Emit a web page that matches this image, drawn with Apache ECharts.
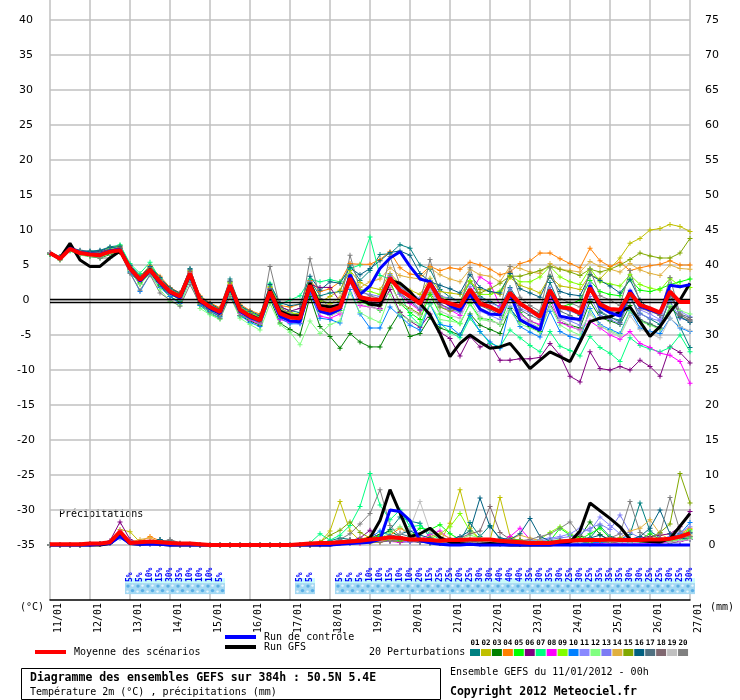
<!DOCTYPE html>
<html><head><meta charset="utf-8">
<script src="https://cdn.jsdelivr.net/npm/echarts/dist/echarts.min.js"></script>
<style>html,body{margin:0;padding:0;background:#fff}#c{width:740px;height:700px}</style>
</head><body><div id="c"></div>
<script>
// x: 6-hourly steps 0..64 (11/01 00h -> 27/01 00h)
const dateLabels = ['11/01','12/01','13/01','14/01','15/01','16/01','17/01','18/01','19/01','20/01','21/01','22/01','23/01','24/01','25/01','26/01','27/01'];
const memberIds = ['01','02','03','04','05','06','07','08','09','10','11','12','13','14','15','16','17','18','19','20'];
const memberColors = ['#008080','#c0c000','#008000','#ff8000','#00ff00','#800080','#00ff80','#ff00ff','#80ff00','#0080ff','#8888ff','#80ff80','#7c7cf4','#e0b040','#80a800','#006080','#507080','#806870','#c0c0c0','#808080'];

// Temperature 2m (°C)
const meanT = [6.7,5.9,7.3,6.7,6.5,6.4,6.9,7.1,4.5,2.9,4.3,2.6,1.2,0.5,3.8,0.0,-1.0,-1.7,2.1,-1.4,
 -2.3,-2.9,1.2,-1.9,-2.5,-2.6,2.1,-1.2,-1.5,-1.0,3.1,0.4,0.1,0.0,3.1,1.4,0.5,-0.5,2.4,0.0,
 -0.5,-0.9,1.5,-0.5,-1.0,-1.7,1.0,-0.5,-1.4,-2.4,1.4,-1.0,-1.2,-1.9,1.7,-0.6,-1.3,-1.4,1.0,-0.7,-1.2,-1.8,1.2,-0.3,-0.3];
const ctrlT = [6.7,5.9,7.4,6.8,6.6,6.5,7.0,7.2,4.4,2.7,4.2,2.4,1.0,0.3,3.7,-0.2,-1.2,-1.9,2.0,-1.6,
 -2.5,-3.0,1.0,-2.3,-3.0,-3.1,1.9,-1.6,-2.0,-1.3,3.6,0.8,2.0,4.5,6.0,6.9,4.8,3.0,2.6,0.2,
 -0.8,-1.5,0.8,-1.3,-2.0,-2.1,1.0,-2.8,-3.6,-4.3,1.4,-2.3,-2.6,-2.8,2.1,-1.0,-1.8,-2.3,1.4,-0.9,-1.4,-1.9,2.1,1.9,2.2];
const gfsT = [6.7,6.0,8.1,5.7,4.8,4.8,6.0,7.0,4.6,2.8,4.4,2.5,1.1,0.4,3.6,-0.1,-1.2,-1.9,1.9,-1.6,
 -2.2,-2.8,1.4,-1.6,-2.2,-2.3,2.4,-0.8,-1.0,-0.7,3.0,0.2,-0.6,-0.8,2.8,2.4,1.2,-0.5,-2.1,-4.8,
 -8.1,-6.2,-5.0,-6.0,-6.9,-6.7,-6.2,-7.9,-9.8,-8.6,-7.4,-8.1,-8.8,-6.0,-3.1,-2.6,-2.4,-1.7,-1.0,-3.1,-5.2,-3.8,-1.7,0.0,2.4];
const t01 = [6.6,6.2,7.2,7.0,7.0,7.1,7.6,7.8,5.0,3.5,4.5,3.1,1.6,0.9,4.5,0.4,-0.6,-1.2,3.0,-0.8,
 -1.8,-2.3,2.0,-1.0,-1.5,-1.8,2.8,0.6,1.0,1.2,5.0,2.8,4.2,6.5,6.6,7.9,7.4,5.0,4.4,1.5,
 0.4,-0.2,2.6,0.5,-0.2,-1.0,1.8,-0.5,-1.2,-2.0,2.5,-0.8,-1.5,-2.2,2.0,-1.8,-2.5,-2.9,0.4,-1.9,-2.7,-3.5,0.0,-3.8,-6.8];
const t02 = [6.8,6.0,7.5,6.9,6.7,6.8,7.4,7.7,4.2,2.6,4.6,2.8,1.4,0.6,4.0,0.2,-0.8,-1.5,2.4,-1.1,
 -2.0,-2.6,1.5,-1.4,-1.8,-2.0,2.6,-0.3,0.5,1.4,4.2,2.5,1.8,1.5,3.8,2.3,1.4,0.8,3.1,1.2,
 1.0,0.8,2.6,1.5,1.2,0.8,3.2,2.1,1.6,1.0,3.4,2.0,1.8,1.5,3.6,3.0,4.5,6.0,8.1,8.8,10.0,10.2,10.8,10.5,9.8];
const t03 = [6.5,5.7,7.1,6.5,6.2,6.0,6.5,6.8,4.0,2.3,3.9,2.0,0.5,-0.3,3.3,-0.6,-1.6,-2.3,1.3,-2.2,
 -3.0,-3.6,0.2,-3.3,-4.2,-5.0,0.5,-3.8,-5.2,-6.9,-4.8,-6.0,-6.7,-6.7,-4.0,-1.7,-5.2,-4.8,-2.5,-4.0,
 -4.5,-5.0,-2.0,-3.6,-4.2,-4.8,-1.2,-3.0,-3.8,-4.5,-0.5,-3.2,-3.6,-4.0,-0.2,-2.5,-3.0,-3.5,-0.8,-3.0,-3.5,-4.0,-1.0,-2.5,-3.0];
const t04 = [6.7,5.8,7.2,6.6,6.6,6.6,7.1,7.5,4.8,3.4,4.9,3.4,1.8,1.0,4.1,0.6,-0.4,-1.1,2.6,-0.6,
 -1.5,-2.0,1.8,-0.8,-1.0,-0.6,2.8,1.2,1.6,2.6,5.2,5.1,5.1,5.8,6.9,4.6,3.7,3.5,4.8,4.2,
 4.6,4.4,5.4,5.0,4.4,3.6,4.0,5.2,5.6,6.7,6.7,5.9,5.2,4.6,7.4,5.6,4.8,5.4,4.2,4.6,4.9,5.1,5.6,5.0,5.0];
const t05 = [6.6,5.9,7.4,6.8,6.4,6.2,6.7,7.0,4.3,2.5,4.0,2.2,0.8,0.1,3.5,-0.4,-1.4,-2.0,1.6,-1.8,
 -2.7,-3.2,1.0,-2.2,-2.8,-2.4,2.4,-1.6,-2.2,-1.5,3.4,-0.2,-0.8,-1.5,2.6,-0.5,-1.8,-2.8,0.8,-2.0,
 -2.5,-3.4,-0.5,-2.6,-2.8,-3.5,0.4,-1.8,-3.0,-3.6,0.6,-1.0,-0.6,0.0,2.8,1.2,0.8,0.6,3.0,1.4,1.2,1.6,2.2,2.6,3.0];
const t06 = [6.8,6.1,7.6,6.9,6.8,6.9,7.2,7.4,4.7,3.1,4.4,2.8,1.3,0.7,4.0,0.1,-0.9,-1.8,2.0,-1.5,
 -1.9,-2.7,1.5,-0.9,-1.6,-1.2,2.2,1.8,1.8,-0.2,3.0,0.6,0.0,-1.2,1.5,-1.8,-3.0,-3.9,-2.0,-4.6,
 -5.5,-8.0,-5.2,-6.7,-6.2,-8.6,-8.6,-8.4,-8.4,-8.2,-6.2,-7.9,-10.9,-11.7,-7.4,-9.8,-10.0,-9.5,-10.0,-8.6,-9.5,-10.9,-6.7,-7.5,-9.0];
const t07 = [6.5,6.0,7.0,6.4,6.3,6.5,7.3,7.9,5.2,3.8,5.4,3.0,1.0,0.0,3.6,-0.8,-2.0,-2.6,1.0,-2.4,
 -2.6,-3.4,2.4,-0.6,0.0,0.6,3.0,2.6,2.9,2.6,4.5,5.0,9.0,3.5,3.0,1.0,-2.2,-3.6,-0.5,-3.3,
 -4.6,-5.4,-2.6,-4.5,-6.2,-6.7,-4.3,-5.4,-6.5,-7.4,-4.5,-6.6,-7.2,-8.0,-5.2,-6.8,-7.6,-8.8,-5.4,-6.5,-7.0,-7.4,-6.8,-5.0,-7.4];
const t08 = [6.7,6.0,7.4,6.6,6.4,6.3,6.8,7.0,4.4,2.7,4.1,2.4,0.9,0.2,3.4,-0.3,-1.3,-2.1,1.7,-1.9,
 -2.9,-3.4,0.6,-2.8,-3.2,-3.3,1.2,-2.3,-2.6,-2.0,2.5,-0.8,-1.0,-1.3,3.4,0.8,-0.5,-1.5,2.0,-0.6,
 -1.4,-2.2,0.8,3.3,2.4,-0.8,0.6,-2.0,-3.0,-3.5,0.2,-3.2,-3.8,-4.3,-3.0,-4.0,-5.0,-5.6,-4.5,-6.2,-6.8,-7.6,-7.9,-8.8,-11.9];
const t09 = [6.6,5.8,7.3,6.9,6.7,6.6,7.0,7.2,4.6,3.0,4.5,2.8,1.5,0.8,4.2,0.3,-0.7,-1.4,2.5,-1.0,
 -1.8,-2.4,1.9,-1.2,-1.8,-2.2,2.5,0.0,-0.5,-0.2,3.8,1.5,1.2,0.8,3.5,2.0,0.6,-0.2,2.8,0.4,
 0.2,-0.2,2.8,0.8,0.8,1.3,3.5,2.6,2.6,3.3,4.8,3.3,2.6,2.2,4.5,2.6,2.3,2.0,3.6,2.2,1.7,1.4,3.1,2.0,1.8];
const t10 = [6.8,6.0,7.2,6.6,6.4,6.3,6.8,7.0,4.0,1.2,3.6,1.8,0.5,-0.5,2.8,-0.8,-1.6,-2.4,1.2,-2.2,
 -3.2,-3.8,0.4,-2.6,-3.4,-3.4,1.0,-2.6,-2.8,-3.3,1.5,-2.0,-4.0,-4.0,-1.0,-2.3,-3.6,-4.3,-0.6,-3.5,
 -3.8,-5.0,-2.2,-4.5,-6.0,-6.9,-1.0,-3.8,-4.6,-5.3,-1.6,-4.5,-5.2,-5.6,-1.2,-3.5,-4.2,-4.8,-1.5,-4.0,-4.5,-4.8,-2.6,-4.0,-4.5];
const t11 = [6.7,5.9,7.2,6.7,6.6,6.5,6.9,7.2,4.6,2.8,4.2,2.5,1.1,0.4,3.7,0.0,-1.1,-1.8,2.0,-1.5,
 -2.4,-3.0,1.3,-1.8,-2.4,-2.5,2.2,-1.0,-1.4,-0.6,3.3,0.2,0.0,-0.5,3.0,0.8,0.0,-1.2,1.8,-1.0,
 -1.4,-1.8,0.6,-1.6,-2.2,-2.8,0.2,-1.2,-1.8,-2.6,1.8,-1.2,-1.6,-2.0,2.4,-0.2,-1.2,-1.8,1.4,-1.4,-2.0,-2.8,1.0,-1.6,-2.4];
const t12 = [6.6,5.8,7.1,6.4,6.2,6.1,6.6,6.9,4.2,2.2,3.8,1.5,-0.2,-0.8,3.0,-1.2,-2.1,-2.8,0.6,-2.6,
 -3.5,-4.3,-0.5,-3.5,-4.6,-6.4,-3.0,-4.8,-3.5,-3.0,1.0,-1.8,-2.6,-3.2,0.8,-2.0,-3.0,-3.4,-0.6,-2.8,
 -3.0,-3.3,-0.6,-2.8,-3.0,-3.4,-1.6,-3.4,-4.0,-4.6,-0.8,-3.6,-4.4,-5.0,-1.6,-3.8,-4.4,-5.0,-1.6,-3.0,-3.6,-4.2,-0.8,-1.5,-2.0];
const t13 = [6.7,6.0,7.3,6.8,6.5,6.4,7.0,7.2,4.5,3.2,4.4,2.7,1.3,0.6,3.9,0.2,-0.8,-1.6,2.2,-1.2,
 -2.0,-2.6,1.6,-1.4,-2.0,-2.2,2.6,-0.8,-1.0,-0.5,3.6,1.0,0.8,0.5,3.6,1.8,1.0,0.2,2.8,0.6,
 0.2,-0.3,1.9,0.2,-0.4,-1.0,1.6,-0.8,-1.6,-2.4,1.4,-2.6,-3.0,-3.6,0.5,-2.2,-2.8,-3.4,0.2,-2.0,-2.6,-3.0,-0.2,-2.6,-3.0];
const t14 = [6.8,6.1,7.4,6.7,6.5,6.4,6.9,7.1,4.7,3.0,4.4,2.7,1.3,0.6,3.9,0.1,-0.9,-1.6,2.2,-1.3,
 -2.2,-2.8,1.4,-1.6,-2.1,-2.3,2.3,-0.8,-0.6,0.4,3.5,1.8,2.6,3.0,4.6,3.5,3.2,3.0,4.6,3.6,
 3.0,2.6,4.4,3.6,3.4,2.6,4.8,4.5,4.0,3.8,5.2,4.4,4.2,4.0,5.5,4.8,4.4,4.0,5.2,4.3,3.8,3.5,5.0,4.5,4.4];
const t15 = [6.6,5.9,7.2,6.7,6.5,6.5,7.0,7.3,4.4,2.8,4.2,2.5,1.0,0.3,3.6,-0.2,-1.2,-2.0,1.8,-1.6,
 -2.5,-3.1,1.0,-2.0,-2.6,-2.8,1.8,-1.5,-1.8,-1.2,2.8,0.1,-0.4,-0.8,2.4,-0.4,-1.2,-2.0,1.0,-1.0,
 -1.6,-1.2,1.2,1.0,1.6,2.4,3.4,3.4,3.8,4.2,4.8,4.4,4.0,3.5,4.4,4.0,4.4,5.0,5.8,6.7,6.3,6.0,6.0,6.7,8.8];
const t16 = [6.7,6.1,7.5,7.1,6.9,7.0,7.5,7.6,4.9,3.3,4.8,3.2,1.7,1.0,4.4,0.5,-0.5,-1.3,2.7,-0.8,
 -1.6,-2.2,2.2,-0.4,-0.8,-0.6,3.4,1.4,2.6,2.4,4.6,3.6,4.5,5.6,6.8,7.0,6.4,3.8,2.6,2.1,
 1.6,1.0,3.6,1.8,1.2,1.0,3.8,1.6,1.0,0.4,3.4,1.2,0.8,0.6,3.6,2.8,2.0,1.0,2.9,0.0,-1.4,-2.2,1.2,-2.4,-3.2];
const t17 = [6.6,6.0,7.3,6.9,6.7,6.7,7.2,7.4,4.6,3.1,4.6,2.9,1.5,0.7,4.3,0.2,-0.7,-1.5,2.6,-1.0,
 -2.0,-2.5,1.6,-1.6,-2.3,-2.4,2.5,-1.2,-1.6,-0.8,3.4,0.2,-0.4,-0.6,3.2,1.0,-0.2,-1.4,2.3,-0.6,
 -1.2,-1.6,1.2,-0.8,-1.4,-2.2,1.2,-1.4,-2.2,-2.8,1.5,-1.6,-2.2,-3.0,1.6,-1.6,-2.4,-3.2,0.8,-2.8,-3.4,-4.0,0.6,-2.0,-2.5];
const t18 = [6.7,5.9,7.2,6.6,6.4,6.3,6.8,7.1,4.4,2.8,4.2,2.5,1.1,0.4,3.7,-0.1,-1.1,-1.8,2.0,-1.4,
 -2.3,-2.9,1.2,-1.8,-2.4,-2.6,2.0,-1.1,-1.3,-0.8,3.1,0.5,0.2,0.0,3.0,1.2,0.4,-0.6,2.2,-0.2,
 -0.8,-1.2,1.4,-0.6,-1.0,-1.6,0.8,-0.8,-1.6,-2.2,1.0,-1.2,-1.4,-2.0,1.5,-0.8,-1.6,-1.8,0.9,-1.2,-1.6,-2.2,1.1,-2.2,-2.8];
const t19 = [6.7,6.0,7.3,6.6,6.5,6.4,6.8,7.0,4.3,2.7,4.1,2.4,1.0,0.3,3.6,-0.2,-1.2,-1.9,1.9,-1.6,
 -2.6,-3.2,0.8,-2.2,-2.8,-3.0,1.6,-1.8,-2.2,-1.8,2.6,-0.6,-1.0,-1.4,2.2,-0.4,-1.4,-2.2,1.6,-1.6,
 -2.2,-2.6,0.2,-2.4,-3.0,-3.4,-0.8,-2.4,-3.2,-4.0,-0.8,-2.8,-3.6,-4.4,-2.0,-3.6,-4.6,-5.2,-2.2,-4.2,-4.8,-5.4,-2.6,-3.8,-4.4];
const t20 = [6.6,5.8,7.5,7.0,6.4,6.0,6.0,6.8,3.8,1.4,3.6,1.0,0.0,-0.9,2.2,-0.6,-1.8,-2.6,0.5,-2.2,
 -2.6,-3.2,4.8,-1.0,-2.0,-2.4,5.9,0.2,-1.0,-0.8,6.4,1.4,0.6,0.2,6.2,2.2,0.8,-0.4,5.8,0.6,
 -0.6,-1.2,4.6,0.0,-0.8,-1.4,4.8,0.4,-0.8,-1.6,4.6,0.2,-0.4,-1.0,4.4,0.6,0.0,-0.8,4.2,-0.4,-1.2,-2.0,3.2,-2.0,-3.0];

// Precipitation (mm per 6h)
const meanP = [0.1,0.1,0.1,0.1,0.2,0.2,0.4,1.9,0.3,0.4, 0.5,0.4,0.3,0.2,0.2,0.1,0,0,0,0, 0,0,0,0,0,0.1,0.2,0.3,0.3,0.4,
 0.5,0.6,0.8,0.9,1.1,1.0,0.8,0.8,0.7,0.6, 0.7,0.7,0.8,0.8,0.8,0.6,0.5,0.4,0.3,0.3, 0.3,0.5,0.6,0.7,0.7,0.7,0.8,0.7,0.7,0.7, 0.8,0.8,0.9,1.2,1.7];
const ctrlP = [0,0,0,0,0,0.1,0.2,1.2,0.2,0.1, 0.1,0.1,0,0,0,0,0,0,0,0, 0,0,0,0,0,0,0,0,0,0.1,
 0.2,0.3,0.4,0.8,5.0,4.8,3.5,0.6,0.3,0.1, 0,0,0.1,0,0,0,0,0,0,0, 0,0,0,0,0,0,0,0,0,0, 0,0,0,0,0];
const gfsP = [0,0,0,0,0,0,0.2,1.4,0.2,0.1, 0.2,0.1,0,0,0,0,0,0,0,0, 0,0,0,0,0,0,0,0,0,0.2,
 0.3,0.4,1.0,3.5,7.9,4.6,1.2,1.6,2.4,1.1, 0.4,0.2,0.1,0.1,0.2,0.1,0,0,0,0, 0,0.2,0.4,2.0,6.0,4.9,3.8,2.6,0.8,0.6, 0.5,0.4,0.9,2.7,4.5];
const p01 = [0,0,0,0,0.1,0.2,0.4,1.8,0.4,0.2, 0.3,0.8,0.2,0.1,0,0,0,0,0,0, 0,0,0,0,0,0,0.1,0.3,0.6,1.0,
 0.8,0.5,0.6,1.2,2.2,4.0,3.4,3.1,1.0,0.4, 0.3,0.5,3.2,1.2,2.8,0.8,0.3,0.2,0.4,0.6, 0.5,0.4,0.6,0.8,1.0,2.7,1.2,0.8,1.5,6.0, 2.0,1.0,0.6,0.8,1.6];
const p02 = [0,0,0,0,0,0.1,0.3,2.2,1.9,0.4, 0.3,0.2,0.1,0,0,0,0,0,0,0, 0,0,0,0,0,0,0.2,0.4,2.0,6.2,
 2.0,0.6,0.3,0.4,0.8,1.0,0.6,0.5,0.3,0.4, 3.1,7.9,2.4,0.8,0.6,6.8,1.2,0.5,0.3,0.2, 0.4,0.6,0.3,0.2,0.4,0.6,0.3,0.2,0.3,0.4, 0.3,0.2,0.5,0.8,1.0];
const p03 = [0,0,0,0,0.1,0.1,0.2,1.2,0.2,0.1, 0.2,0.1,0.1,0,0,0,0,0,0,0, 0,0,0,0,0,0,0,0.1,0.2,0.3,
 0.4,0.6,1.0,1.5,2.0,1.2,0.8,0.6,0.4,0.3, 0.2,0.3,0.5,0.4,0.2,0.1,0.2,0.3,0.5,0.4, 0.3,0.6,0.8,1.2,3.3,1.5,0.6,0.4,0.3,0.5, 0.6,0.4,0.3,0.5,0.8];
const p04 = [0,0,0,0,0.1,0.2,0.3,1.5,0.3,0.5, 1.2,0.6,0.3,0.2,0.1,0,0,0,0,0, 0,0,0,0,0,0,0.1,0.2,0.3,0.4,
 0.5,0.8,1.2,1.0,1.4,2.4,1.6,0.8,0.6,0.4, 0.3,0.2,0.4,0.6,0.5,0.3,0.6,0.8,0.4,0.3, 0.2,0.3,0.4,0.3,0.5,0.6,0.4,0.3,0.2,0.4, 0.5,0.6,0.8,1.6,2.4];
const p05 = [0,0,0,0,0.1,0.1,0.3,1.4,0.3,0.2, 0.2,0.3,0.2,0.1,0,0,0,0,0,0, 0,0,0,0,0,0,0,0.1,0.2,0.3,
 0.6,0.8,1.0,1.2,0.8,0.6,1.2,2.4,2.2,2.9, 1.6,0.8,0.6,0.5,0.4,0.6,0.8,0.7,0.5,0.4, 0.6,2.4,1.4,0.8,1.6,2.4,1.0,0.6,0.4,0.8, 1.6,0.8,0.6,1.2,2.0];
const p06 = [0,0,0,0,0.1,0.2,0.6,3.3,0.8,0.2, 0.3,0.2,0.1,0,0,0,0,0,0,0, 0,0,0,0,0,0,0,0.1,0.2,0.4,
 0.6,1.0,2.1,0.8,0.6,0.4,0.5,0.4,0.3,0.2, 0.3,0.2,0.3,0.4,0.2,0.3,0.2,0.1,0.2,0.3, 0.2,0.3,0.4,0.3,0.2,0.3,0.4,0.6,0.8,1.0, 1.2,1.4,1.6,2.6,4.8];
const p07 = [0,0,0,0,0.1,0.2,0.4,1.6,0.4,0.3, 0.2,0.3,0.1,0,0,0,0,0,0,0, 0,0,0,0,0,0,0.3,1.6,0.7,1.4,
 2.8,5.5,10.2,5.7,3.6,5.0,2.6,2.8,1.6,0.8, 0.6,0.4,0.3,0.5,0.4,0.3,0.2,0.4,0.5,0.3, 0.2,0.3,0.4,0.5,0.4,0.3,0.4,0.6,0.5,0.4, 0.3,0.5,0.4,0.6,1.0];
const p08 = [0,0,0,0,0.1,0.1,0.3,2.0,0.6,0.3, 0.2,0.1,0.1,0,0,0,0,0,0,0, 0,0,0,0,0,0,0,0,0.1,0.2,
 0.3,0.2,0.4,0.6,0.5,0.4,0.6,0.8,1.5,2.0, 0.8,0.4,0.3,0.2,0.2,0.4,1.2,2.4,0.8,0.3, 0.2,0.2,0.3,0.2,0.1,0.2,0.3,0.2,0.2,0.3, 0.2,0.3,0.4,0.5,0.8];
const p09 = [0,0,0,0,0.1,0.2,0.3,1.4,0.4,0.2, 0.2,0.2,0.1,0,0,0,0,0,0,0, 0,0,0,0,0,0,0,0.1,0.2,0.3,
 0.5,0.8,0.6,0.8,1.2,0.8,0.6,0.6,0.8,1.6, 2.6,4.5,2.0,0.8,0.6,0.8,0.5,0.4,0.6,0.8, 1.8,2.6,1.6,1.0,0.8,0.6,0.4,0.6,0.8,0.5, 0.4,0.6,0.8,1.4,2.2];
const p10 = [0,0,0,0,0.1,0.1,0.2,1.0,0.2,0.1, 0.1,0.1,0,0,0,0,0,0,0,0, 0,0,0,0,0,0,0.1,0.2,0.4,0.6,
 0.3,0.5,1.0,2.0,1.4,0.8,0.6,0.4,0.3,0.2, 0.2,0.3,0.2,0.1,0.2,0.3,0.2,0.1,0.1,0.2, 0.3,0.2,0.1,0.2,0.3,0.4,0.6,0.4,0.3,0.5, 0.8,0.6,1.0,1.6,3.2];
const p11 = [0,0,0,0,0.1,0.2,0.3,1.6,0.3,0.2, 0.3,0.2,0.1,0,0,0,0,0,0,0, 0,0,0,0,0,0,0,0.1,0.2,0.2,
 0.4,0.6,0.8,0.6,0.5,0.8,1.0,0.8,0.6,0.4, 0.3,0.4,0.6,0.5,0.4,0.3,0.4,0.5,0.6,0.8, 1.0,1.2,1.6,2.4,2.0,4.0,2.8,1.6,0.8,0.6, 0.5,0.8,1.2,1.8,2.6];
const p12 = [0,0,0,0,0.1,0.1,0.2,1.3,0.2,0.3, 0.2,0.1,0.1,0,0,0,0,0,0,0, 0,0,0,0,0,0,0,0,0.1,0.2,
 0.4,0.6,0.8,1.0,1.8,2.6,1.6,1.0,0.6,0.4, 0.6,0.8,1.4,1.0,0.6,0.4,0.3,0.2,0.3,0.4, 0.6,0.8,0.6,0.4,0.6,0.8,0.5,0.4,0.3,0.4, 0.5,0.4,0.6,0.8,1.2];
const p13 = [0,0,0,0,0.1,0.1,0.3,1.8,0.3,0.2, 0.2,0.2,0.1,0,0,0,0,0,0,0, 0,0,0,0,0,0,0,0.1,0.1,0.2,
 0.3,0.4,0.6,0.8,0.6,0.5,0.4,0.6,0.5,0.4, 0.3,0.4,0.3,0.2,0.3,0.4,0.6,0.5,0.4,0.6, 0.8,1.0,1.2,1.6,2.4,3.0,2.2,4.3,1.8,1.0, 0.8,0.6,0.8,1.2,1.8];
const p14 = [0,0,0,0,0.1,0.2,0.3,1.4,0.4,0.8, 1.0,0.4,0.2,0.1,0,0,0,0,0,0, 0,0,0,0,0,0,0,0.1,0.2,0.3,
 0.4,0.3,0.4,0.6,0.8,1.0,0.8,0.6,1.2,1.6, 1.0,0.6,0.4,0.3,0.4,0.6,0.8,1.4,1.0,0.6, 0.4,0.3,0.4,0.6,0.8,0.6,0.8,1.0,2.0,2.4, 3.6,1.6,0.8,1.0,1.4];
const p15 = [0,0,0,0,0.1,0.1,0.3,1.2,0.3,0.2, 0.2,0.1,0.1,0,0,0,0,0,0,0, 0,0,0,0,0,0,0.1,0.4,1.4,2.1,
 3.3,1.8,1.0,0.8,0.6,0.5,0.8,0.6,0.4,0.3, 0.4,0.6,0.8,0.5,0.4,0.3,0.4,0.6,0.4,0.3, 0.4,0.6,0.8,0.5,0.4,0.6,0.8,1.0,0.6,0.8, 1.0,1.8,3.0,10.2,6.0];
const p16 = [0,0,0,0,0.1,0.2,0.3,1.6,0.4,0.3, 0.4,0.8,0.3,0.1,0,0,0,0,0,0, 0,0,0,0,0,0,0,0.2,0.3,0.4,
 0.3,0.6,0.8,1.0,1.2,1.6,2.0,1.4,1.0,0.6, 0.8,1.2,2.0,6.7,2.6,1.0,0.8,1.6,3.8,1.2, 0.6,0.4,0.5,0.8,1.0,1.4,0.8,0.6,0.8,1.2, 2.4,5.0,1.6,1.0,0.8];
const p17 = [0,0,0,0,0.1,0.2,0.3,1.5,0.5,0.3, 0.3,0.4,0.7,0.2,0.1,0,0,0,0,0, 0,0,0,0,0,0,0,0.1,0.2,0.3,
 0.5,0.6,0.4,0.8,1.0,1.6,1.2,0.8,0.6,0.5, 0.4,0.5,0.6,0.4,0.3,0.5,0.6,0.4,0.3,0.4, 0.5,0.6,0.4,0.3,0.5,0.6,0.8,0.6,0.5,0.6, 0.8,0.6,0.8,1.2,1.8];
const p18 = [0,0,0,0,0.1,0.1,0.2,1.2,0.3,0.2, 0.1,0.2,0.1,0,0,0,0,0,0,0, 0,0,0,0,0,0,0,0.1,0.2,0.5,
 0.8,0.6,0.5,0.4,0.6,0.8,0.6,0.4,0.5,0.6, 0.8,1.0,1.6,2.0,5.5,1.8,0.8,0.6,0.4,0.3, 0.4,0.6,0.5,0.4,0.6,0.5,0.4,0.3,0.4,0.5, 0.6,0.5,0.8,1.0,1.2];
const p19 = [0,0,0,0,0.1,0.1,0.2,1.0,0.2,0.1, 0.1,0.1,0,0,0,0,0,0,0,0, 0,0,0,0,0,0,0,0.1,0.2,0.3,
 0.4,0.5,0.6,0.8,1.0,1.6,2.4,6.2,2.0,0.8, 0.6,0.4,0.3,0.4,0.5,0.4,0.3,0.2,0.3,0.4, 0.5,0.4,0.3,0.4,0.6,0.8,0.6,0.4,0.3,0.5, 0.6,0.5,0.4,0.6,0.8];
const p20 = [0,0,0,0,0.1,0.1,0.3,1.4,0.6,0.4, 0.3,0.4,0.8,0.3,0.1,0,0,0,0,0, 0,0,0,0,0,0,0,0.1,0.3,0.8,
 1.6,3.0,4.5,7.9,2.8,1.2,0.8,0.6,0.5,0.4, 0.3,0.4,0.6,0.8,0.6,0.4,0.5,0.6,0.8,1.2, 1.6,2.4,3.3,1.4,0.8,0.6,1.0,1.6,6.2,1.8, 1.0,1.6,6.8,2.0,1.2];

// Snow probability (%) per 6h step
const snowSteps = [8,9,10,11,12,13,14,15,16,17, 25,26,
 29,30,31,32,33,34,35,36,37,38,39,40,41,42,43,44,45,46,47,48,49,50,51,52,53,54,55,56,57,58,59,60,61,62,63,64];
const snowPct = [5,5,10,15,30,35,10,10,10,5, 5,5,
 5,5,5,10,10,15,10,10,20,15,25,25,20,25,30,30,40,40,40,35,30,35,30,25,30,25,35,35,35,30,30,25,25,30,25,30];

const tempMembers = [t01,t02,t03,t04,t05,t06,t07,t08,t09,t10,t11,t12,t13,t14,t15,t16,t17,t18,t19,t20];
const precMembers = [p01,p02,p03,p04,p05,p06,p07,p08,p09,p10,p11,p12,p13,p14,p15,p16,p17,p18,p19,p20];

const toXY = a => a.map((v, i) => [i, v]);
const PLUS = 'path://M2,0L3,0L3,2L5,2L5,3L3,3L3,5L2,5L2,3L0,3L0,2L2,2Z';
const MONO = '"DejaVu Sans Mono", monospace';
const SNOW_BASE = -40.3;
const series = [];

// zero reference double line
series.push({type:'line', xAxisIndex:1, yAxisIndex:2, data:[], silent:true, z:1,
  markLine:{symbol:'none', silent:true, animation:false, label:{show:false},
    data:[{yAxis:0.1, lineStyle:{color:'#000', width:1.4, type:'solid'}},
          {yAxis:-0.3, lineStyle:{color:'#000', width:1.4, type:'solid'}}]}});

function member(arr, c, yIdx) {
  return {type:'line', xAxisIndex:1, yAxisIndex:yIdx, data:toXY(arr), symbol:PLUS, symbolSize:5,
    showSymbol:true, showAllSymbol:true, lineStyle:{width:1, color:c}, itemStyle:{color:c},
    silent:true, animation:false, z:2};
}
tempMembers.forEach((a, i) => series.push(member(a, memberColors[i], 2)));
precMembers.forEach((a, i) => series.push(member(a, memberColors[i], 3)));

function main(arr, c, w, yIdx, z) {
  return {type:'line', xAxisIndex:1, yAxisIndex:yIdx, data:toXY(arr), showSymbol:false, symbol:'none',
    lineStyle:{width:w, color:c}, itemStyle:{color:c}, silent:true, animation:false, z:z};
}
series.push(main(gfsT, '#000000', 3, 2, 3));
series.push(main(gfsP, '#000000', 3, 3, 3));
series.push(main(ctrlT, '#0000ff', 3, 2, 4));
series.push(main(ctrlP, '#0000ff', 3, 3, 4));
series.push(main(meanT, '#ff0000', 4, 2, 5));
series.push(main(meanP, '#ff0000', 4, 3, 5));

// snow probability strip
series.push({type:'custom', xAxisIndex:1, yAxisIndex:2, silent:true, animation:false, z:6, clip:false,
  data: snowSteps.map((s, i) => [s, snowPct[i]]),
  renderItem: function (params, api) {
    const p = api.coord([api.value(0), SNOW_BASE]);
    const x = p[0], y = p[1];
    return {type:'group', children:[
      {type:'rect', shape:{x:x-5, y:y-4, width:10, height:5}, style:{fill:'#c8fafa'}},
      {type:'rect', shape:{x:x-5, y:y+1, width:10, height:11}, style:{fill:'#a4d8f2'}},
      {type:'circle', shape:{cx:x-2, cy:y+4, r:1.7}, style:{fill:'#58aee6'}},
      {type:'circle', shape:{cx:x+2.5, cy:y+8.5, r:1.7}, style:{fill:'#58aee6'}},
      {type:'circle', shape:{cx:x-2.5, cy:y+9.5, r:1.2}, style:{fill:'#e8f6ff'}},
      {type:'circle', shape:{cx:x+2.5, cy:y+3.5, r:1.2}, style:{fill:'#e8f6ff'}},
      {type:'text', x:x, y:y, rotation:Math.PI/2,
        style:{text: api.value(1) + '%', fill:'#0000ff', fontSize:8, fontWeight:'bold',
          fontFamily:MONO, align:'left', verticalAlign:'middle'}}
    ]};
  }});

// graphic legend & texts
const graphic = [];
const T = (x, y, text, opts) => graphic.push(Object.assign({type:'text', x:x, y:y, silent:true,
  style:Object.assign({text:text, fill:'#000', fontSize:10, fontFamily:MONO, verticalAlign:'middle', align:'left'}, opts || {})}));
const R = (x, y, w, h, fill, stroke) => graphic.push({type:'rect', silent:true, shape:{x:x, y:y, width:w, height:h},
  style:{fill:fill, stroke:stroke || null, lineWidth: stroke ? 1 : 0}});

T(59, 514, 'Précipitations');
T(20, 607, '(°C)');
T(710, 607, '(mm)');
R(35, 650, 31, 4, '#ff0000'); T(74, 652, 'Moyenne des scénarios');
R(225, 635, 31, 4, '#0000ff'); T(264, 637, 'Run de contrôle');
R(225, 645, 31, 4, '#000000'); T(264, 647, 'Run GFS');
T(369, 652, '20 Perturbations');
memberIds.forEach((id, i) => {
  const x = 470 + i * 10.95;
  R(x, 649, 10, 7, memberColors[i]);
  T(x + 5, 643, id, {fontSize:7.5, fontWeight:'bold', align:'center'});
});
R(21.5, 668.5, 419, 31, '#ffffff', '#000000');
T(30, 678, 'Diagramme des ensembles GEFS sur 384h : 50.5N 5.4E', {fontSize:11.5, fontWeight:'bold'});
T(30, 692, 'Température 2m (°C) , précipitations (mm)');
T(450, 672, 'Ensemble GEFS du 11/01/2012 - 00h');
T(450, 692, 'Copyright 2012 Meteociel.fr', {fontSize:11.5, fontWeight:'bold'});

const grid = [
  {left:50, right:50, top:20, height:525},
  {left:50, right:50, top:0, height:600}
];
const option = {
  animation:false,
  backgroundColor:'#ffffff',
  textStyle:{fontFamily:MONO},
  grid: grid,
  xAxis: [
    {gridIndex:0, type:'value', min:0, max:64, show:false},
    {gridIndex:1, type:'value', min:0, max:64, interval:4,
      axisLine:{show:true, onZero:false, lineStyle:{color:'#000', width:1.5}},
      axisTick:{show:false},
      splitLine:{show:true, lineStyle:{color:'#c0c0c0', width:1.5}},
      axisLabel:{rotate:90, formatter: v => dateLabels[Math.round(v / 4)], fontFamily:MONO, fontSize:10,
        color:'#000', margin:3, verticalAlign:'top', lineHeight:16}}
  ],
  yAxis: [
    {gridIndex:0, type:'value', min:-35, max:40, interval:5, position:'left',
      axisLine:{show:false}, axisTick:{show:false},
      splitLine:{show:true, lineStyle:{color:'#c0c0c0', width:1.5}},
      axisLabel:{align:'center', margin:24, fontFamily:'"DejaVu Sans", sans-serif', fontSize:11, color:'#000'}},
    {gridIndex:0, type:'value', min:0, max:75, interval:5, position:'right',
      axisLine:{show:false}, axisTick:{show:false}, splitLine:{show:false},
      axisLabel:{align:'center', margin:22, fontFamily:'"DejaVu Sans", sans-serif', fontSize:11, color:'#000'}},
    {gridIndex:1, type:'value', min:-300/7, max:300/7, show:false},
    {gridIndex:1, type:'value', min:-300/7 + 35, max:300/7 + 35, show:false}
  ],
  series: series,
  graphic: graphic
};
const chart = echarts.init(document.getElementById('c'));
chart.setOption(option);
</script></body></html>
